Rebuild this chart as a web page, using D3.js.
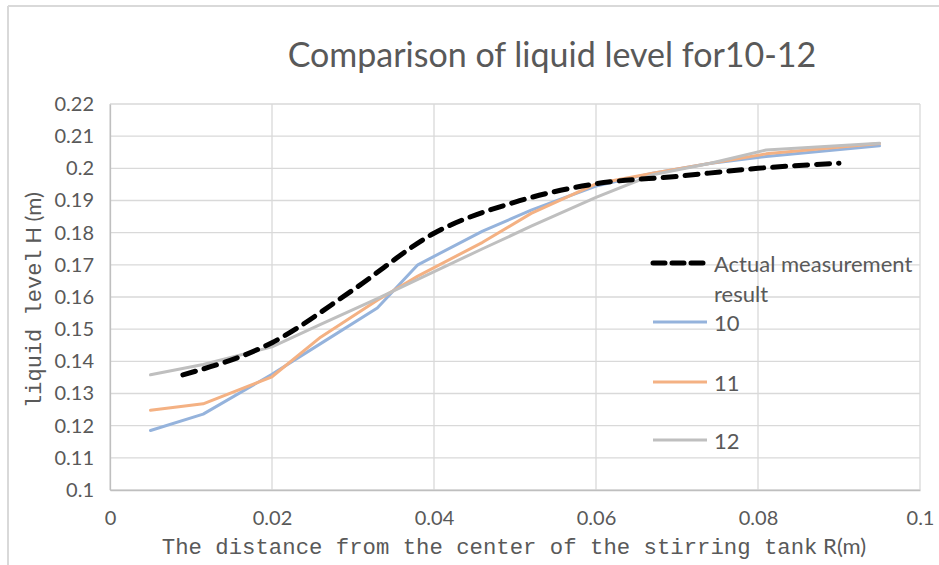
<!DOCTYPE html>
<html><head><meta charset="utf-8">
<script src="https://cdn.jsdelivr.net/npm/d3@7"></script>
<style>body{margin:0;background:#fff}svg{display:block}</style>
</head><body>
<svg id="c" width="939" height="565"></svg>
<script>
const title = "Comparison of liquid level for10-12";
const xTicks = [0, 0.02, 0.04, 0.06, 0.08, 0.1];
const yTicks = [0.1,0.11,0.12,0.13,0.14,0.15,0.16,0.17,0.18,0.19,0.2,0.21,0.22];
const seriesNames = ["Actual measurement result", "10", "11", "12"];
const measX = [0.009, 0.02, 0.03, 0.04, 0.05, 0.06, 0.07, 0.08, 0.09];
const measY = [0.1358, 0.1458, 0.1622, 0.1798, 0.1895, 0.1952, 0.1975, 0.2000, 0.2016];
const simX = [0.005, 0.0115, 0.02, 0.026, 0.033, 0.038, 0.046, 0.052, 0.06, 0.067, 0.074, 0.081, 0.095];
const y10 = [0.1185, 0.1236, 0.1360, 0.1455, 0.1566, 0.1700, 0.1805, 0.1870, 0.1945, 0.1985, 0.2015, 0.2037, 0.2070];
const y11 = [0.1248, 0.1268, 0.1352, 0.1475, 0.1590, 0.1665, 0.1770, 0.1860, 0.1952, 0.1985, 0.2015, 0.2045, 0.2077];
const y12 = [0.1358, 0.1390, 0.1445, 0.1515, 0.1595, 0.1655, 0.1750, 0.1820, 0.1910, 0.1980, 0.2015, 0.2057, 0.2078];
const colors = ["#000000", "#95b3dc", "#f4b183", "#bfbfbf"];

const svg = d3.select("#c");
const x = d3.scaleLinear().domain([0, 0.1]).range([110, 920]);
const y = d3.scaleLinear().domain([0.1, 0.22]).range([490, 104]);
const txt = "#595959";
const sans = "Lato, 'Open Sans', sans-serif";

// outer frame
svg.append("line").attr("x1",8).attr("x2",939).attr("y1",6).attr("y2",6).attr("stroke","#d9d9d9").attr("stroke-width",2);
svg.append("line").attr("x1",8).attr("x2",8).attr("y1",6).attr("y2",565).attr("stroke","#d9d9d9").attr("stroke-width",2);

// grid
const g = svg.append("g");
g.selectAll(".hg").data(yTicks).join("line")
  .attr("x1", x(0)).attr("x2", x(0.1)).attr("y1", d=>y(d)).attr("y2", d=>y(d))
  .attr("stroke", "#d9d9d9").attr("stroke-width", 1.3);
g.selectAll(".vg").data(xTicks).join("line")
  .attr("x1", d=>x(d)).attr("x2", d=>x(d)).attr("y1", y(0.1)).attr("y2", y(0.22))
  .attr("stroke", "#d9d9d9").attr("stroke-width", 1.3);

// axes
const yAxis = d3.axisLeft(y).tickValues(yTicks).tickSize(0).tickPadding(16).tickFormat(d=>String(+d.toFixed(2)));
const ya = svg.append("g").attr("transform", `translate(${x(0)},0)`).call(yAxis);
ya.select(".domain").attr("stroke","#bfbfbf").attr("stroke-width",1.3);
ya.selectAll("text").attr("fill", txt).style("font-family", sans).style("font-size", "20px");
const xAxis = d3.axisBottom(x).tickValues(xTicks).tickSize(0).tickPadding(21).tickFormat(d=>String(+d.toFixed(2)));
const xa = svg.append("g").attr("transform", `translate(0,${y(0.1)})`).call(xAxis);
xa.select(".domain").attr("stroke","#bfbfbf").attr("stroke-width",1.3);
xa.selectAll("text").attr("fill", txt).style("font-family", sans).style("font-size", "20px");

// lines
const line = d3.line().x(d=>x(d[0])).y(d=>y(d[1]));
const sims = [y10, y11, y12];
sims.forEach((ys, i) => {
  svg.append("path").datum(simX.map((v,j)=>[v, ys[j]]))
    .attr("d", line).attr("fill","none").attr("stroke", colors[i+1])
    .attr("stroke-width", 3).attr("stroke-linejoin","round").attr("stroke-linecap","round");
});
const smooth = d3.line().x(d=>x(d[0])).y(d=>y(d[1])).curve(d3.curveMonotoneX);
svg.append("path").datum(measX.map((v,j)=>[v, measY[j]]))
  .attr("d", smooth).attr("fill","none").attr("stroke", colors[0])
  .attr("stroke-width", 5).attr("stroke-dasharray","13,9").attr("stroke-linecap","round");

// legend
const legY = [263, 322, 382, 440];
legY.forEach((ly, i) => {
  const l = svg.append("line").attr("x1", 653).attr("x2", 707).attr("y1", ly).attr("y2", ly)
    .attr("stroke", colors[i]).attr("stroke-width", i===0?5:3);
  if (i===0) l.attr("stroke-dasharray","12,7").attr("stroke-linecap","round");
});
const lt = svg.append("g").style("font-family", sans).style("font-size","22px").attr("fill", txt);
lt.append("text").attr("x",714).attr("y",264).attr("dy","0.35em").text("Actual measurement");
lt.append("text").attr("x",714).attr("y",294).attr("dy","0.35em").text("result");
[1,2,3].forEach(i => lt.append("text").attr("x",714).attr("y",legY[i]+1).attr("dy","0.35em").text(seriesNames[i]));

// title
svg.append("text").attr("x", 552).attr("y", 67).attr("text-anchor","middle")
  .attr("fill", txt).style("font-family", sans).style("font-size","34px").text(title);

// x axis title
const xt = svg.append("text").attr("x", 514).attr("y", 554).attr("text-anchor","middle").attr("fill", txt);
xt.append("tspan").style("font-family","'Liberation Mono', monospace").style("font-size","22.3px").text("The distance from the center of the stirring tank");
xt.append("tspan").style("font-family", sans).style("font-size","22px").text(" R(m)");

// y axis title
const yt = svg.append("text").attr("transform","translate(41,300) rotate(-90)").attr("text-anchor","middle").attr("fill", txt);
yt.append("tspan").style("font-family","'Liberation Mono', monospace").style("font-size","22px").text("liquid level");
yt.append("tspan").style("font-family", sans).style("font-size","22px").text(" H (m)");
</script>
</body></html>
